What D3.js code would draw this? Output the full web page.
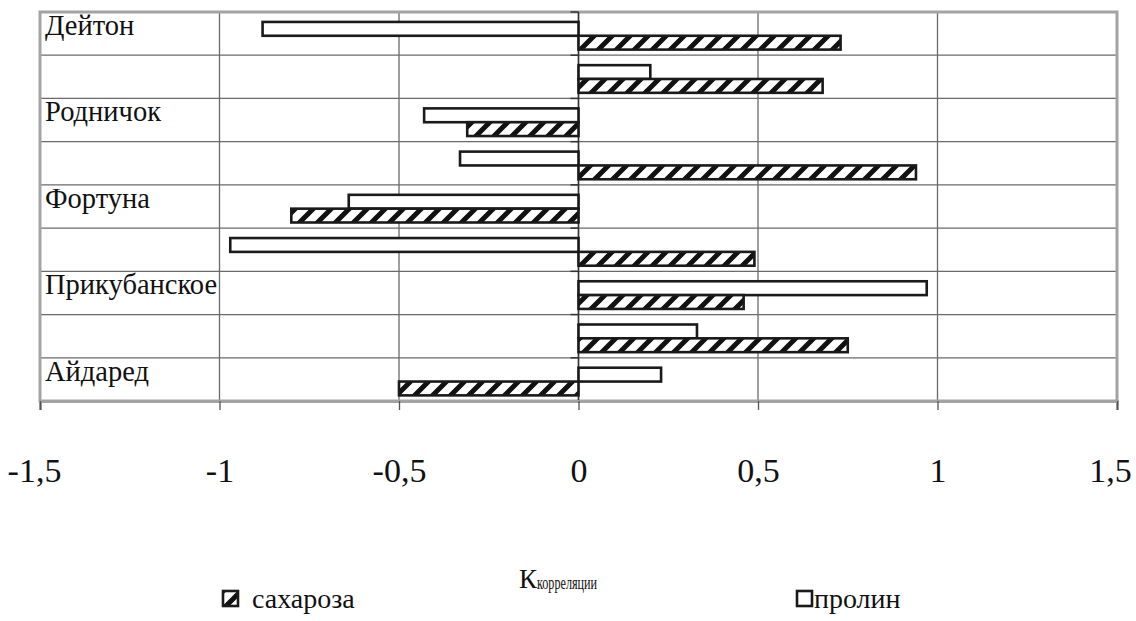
<!DOCTYPE html>
<html>
<head>
<meta charset="utf-8">
<script src="https://cdn.jsdelivr.net/npm/d3@7"></script>
<style>
  html, body { margin: 0; padding: 0; background: #fff; }
</style>
</head>
<body>
<svg id="chart" width="1136" height="621"></svg>
<script>
// Cultivars, top to bottom (only every second row carries a label)
const categories = ["Дейтон", "", "Родничок", "", "Фортуна", "", "Прикубанское", "", "Айдаред"];
// Correlation coefficients per row
const proline = [-0.88, 0.20, -0.43, -0.33, -0.64, -0.97, 0.97, 0.33, 0.23];
const sucrose = [0.73, 0.68, -0.31, 0.94, -0.80, 0.49, 0.46, 0.75, -0.50];
const xTicks = [-1.5, -1, -0.5, 0, 0.5, 1, 1.5];
const seriesNames = ["сахароза", "пролин"];

const FONT = '"Liberation Serif"';
const svg = d3.select("#chart");
const plot = { left: 40, right: 1117, top: 12, bottom: 401 };

const x = d3.scaleLinear().domain([-1.5, 1.5]).range([plot.left, plot.right]);
const rows = d3.scaleBand().domain(d3.range(categories.length)).range([plot.top, plot.bottom]);
const inner = d3.scaleBand().domain(["proline", "sucrose"])
  .range([rows.bandwidth() * 0.23, rows.bandwidth() * 0.87]);

// Diagonal hatch fill for the sucrose bars
const defs = svg.append("defs");
const hatch = defs.append("pattern")
  .attr("id", "hatch").attr("patternUnits", "userSpaceOnUse")
  .attr("width", 18).attr("height", 18);
hatch.append("rect").attr("width", 18).attr("height", 18).attr("fill", "#fff");
hatch.append("path").attr("d", "M-4,22 L22,-4 M-22,22 L4,-4 M14,22 L40,-4")
  .attr("stroke", "#111").attr("stroke-width", 5);

// Vertical gridlines
svg.append("g").selectAll("line").data(xTicks).join("line")
  .attr("x1", d => x(d)).attr("x2", d => x(d))
  .attr("y1", plot.top).attr("y2", plot.bottom)
  .attr("stroke", "#6a6a6a").attr("stroke-width", 1.3);

// Horizontal row separators
const bounds = d3.range(categories.length + 1).map(i => plot.top + i * rows.step());
svg.append("g").selectAll("line").data(bounds).join("line")
  .attr("x1", plot.left).attr("x2", plot.right)
  .attr("y1", d => d).attr("y2", d => d)
  .attr("stroke", "#6a6a6a").attr("stroke-width", 1.3);

// Plot frame
svg.append("rect")
  .attr("x", plot.left).attr("y", plot.top)
  .attr("width", plot.right - plot.left).attr("height", plot.bottom - plot.top)
  .attr("fill", "none").attr("stroke", "#a3a3a3").attr("stroke-width", 3);

// Category axis at zero with outward ticks
svg.append("line")
  .attr("x1", x(0)).attr("x2", x(0)).attr("y1", plot.top).attr("y2", plot.bottom)
  .attr("stroke", "#333").attr("stroke-width", 1.5);
svg.append("g").selectAll("line").data(bounds).join("line")
  .attr("x1", x(0) - 8).attr("x2", x(0))
  .attr("y1", d => d).attr("y2", d => d)
  .attr("stroke", "#333").attr("stroke-width", 1.5);

// Value axis along the bottom
const xAxis = svg.append("g")
  .attr("transform", `translate(0,${plot.bottom})`)
  .call(d3.axisBottom(x).tickValues(xTicks).tickSize(9).tickPadding(48)
    .tickFormat(d => String(d).replace(".", ",")));
xAxis.select(".domain").attr("stroke", "#a3a3a3").attr("stroke-width", 3);
xAxis.selectAll(".tick line").attr("stroke", "#555").attr("stroke-width", 1.3);
xAxis.selectAll(".tick text")
  .style("font-family", FONT).style("font-size", "34px").attr("fill", "#111")
  // keep the outermost labels inside the canvas
  .attr("dx", (d, i, n) => i === 0 ? -6 : (i === n.length - 1 ? -7 : 0));

// Bars
const barData = [];
categories.forEach((c, i) => {
  barData.push({ row: i, key: "proline", v: proline[i] });
  barData.push({ row: i, key: "sucrose", v: sucrose[i] });
});
svg.append("g").selectAll("rect").data(barData).join("rect")
  .attr("x", d => x(Math.min(0, d.v)))
  .attr("width", d => Math.abs(x(d.v) - x(0)))
  .attr("y", d => rows(d.row) + inner(d.key))
  .attr("height", inner.bandwidth())
  .attr("fill", d => d.key === "sucrose" ? "url(#hatch)" : "#fff")
  .attr("stroke", "#1a1a1a").attr("stroke-width", 2.6);

// Category labels inside the plot, near the top of each row
svg.append("g").selectAll("text").data(categories.map((c, i) => ({ c, i })).filter(d => d.c))
  .join("text")
  .attr("x", 45).attr("y", d => rows(d.i) + 23)
  .style("font-family", FONT).style("font-size", "28.5px").attr("fill", "#111")
  .text(d => d.c);

// Axis title with a condensed subscript
const title = svg.append("text").attr("x", 519).attr("y", 588)
  .style("font-family", FONT).attr("fill", "#111");
title.append("tspan").style("font-size", "27px").text("К");
title.append("tspan").style("font-size", "18px").attr("dy", 1)
  .attr("textLength", 60).attr("lengthAdjust", "spacingAndGlyphs").text("корреляции");

// Legend
const legend = [
  { name: seriesNames[0], fill: "url(#hatch)", x: 223 },
  { name: seriesNames[1], fill: "#fff", x: 797 }
];
const lg = svg.append("g").selectAll("g").data(legend).join("g")
  .attr("transform", d => `translate(${d.x},591)`);
lg.append("rect").attr("width", 15).attr("height", 15)
  .attr("fill", d => d.fill).attr("stroke", "#1a1a1a").attr("stroke-width", 2.6);
lg.append("text").attr("x", (d, i) => i === 0 ? 29 : 17).attr("y", 17)
  .style("font-family", FONT).style("font-size", "28px").attr("fill", "#111")
  .text(d => d.name);
</script>
</body>
</html>
